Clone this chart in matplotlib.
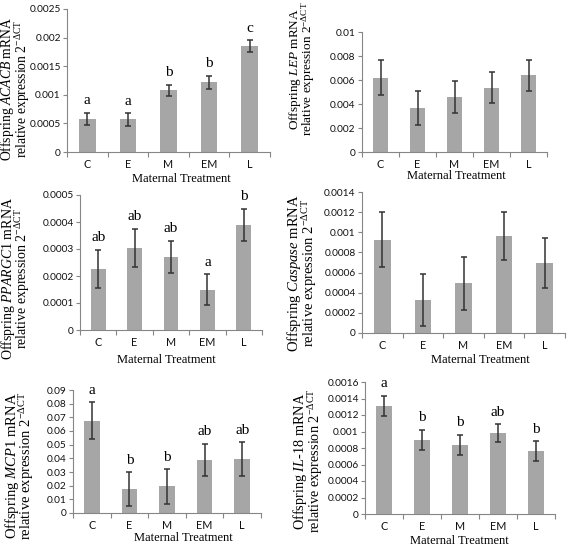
import matplotlib
matplotlib.use("Agg")
import matplotlib.pyplot as plt
from matplotlib.ticker import MultipleLocator, FuncFormatter

# data
treatments = ["C", "E", "M", "EM", "L"]
genes = ["ACACB", "LEP", "PPARGC1", "Caspase", "MCP1", "IL-18"]

acacb_mean = [0.00058, 0.00057, 0.00108, 0.00122, 0.00185]
acacb_err = [0.00011, 0.00011, 0.00010, 0.00011, 0.00010]
acacb_letters = ["a", "a", "b", "b", "c"]

lep_mean = [0.0062, 0.00367, 0.00462, 0.00537, 0.0064]
lep_err = [0.00143, 0.00143, 0.00133, 0.0013, 0.0013]
lep_letters = ["", "", "", "", ""]

ppargc1_mean = [0.000227, 0.000304, 0.00027, 0.00015, 0.000388]
ppargc1_err = [0.00007, 0.00007, 0.00006, 0.000057, 0.00006]
ppargc1_letters = ["ab", "ab", "ab", "a", "b"]

caspase_mean = [0.000927, 0.000327, 0.000493, 0.000965, 0.000697]
caspase_err = [0.00027, 0.00026, 0.00026, 0.00024, 0.00025]
caspase_letters = ["", "", "", "", ""]

mcp1_mean = [0.0675, 0.0173, 0.0195, 0.039, 0.0395]
mcp1_err = [0.0136, 0.0124, 0.0126, 0.0118, 0.0122]
mcp1_letters = ["a", "b", "b", "ab", "ab"]

il18_mean = [0.00131, 0.0009, 0.00084, 0.00098, 0.00076]
il18_err = [0.000125, 0.00012, 0.00012, 0.00011, 0.00012]
il18_letters = ["a", "b", "b", "ab", "b"]

means = [acacb_mean, lep_mean, ppargc1_mean, caspase_mean, mcp1_mean, il18_mean]
errs = [acacb_err, lep_err, ppargc1_err, caspase_err, mcp1_err, il18_err]
letters = [acacb_letters, lep_letters, ppargc1_letters, caspase_letters,
           mcp1_letters, il18_letters]
ymax = [0.0025, 0.01, 0.0005, 0.0014, 0.09, 0.0016]
ystep = [0.0005, 0.002, 0.0001, 0.0002, 0.01, 0.0002]

# layout in pixels: axes box (x0, top, x1, bottom), ylabel centre, ylabel size, xlabel centre
W, H = 567, 548
boxes = [(67, 9, 270, 152), (362, 32, 547, 152),
         (80, 195, 262, 330), (362, 192, 565, 333),
         (73, 390, 261, 513), (365, 382, 555, 514)]
ylab_pos = [(15, 89), (302, 69), (15.5, 279), (302, 273), (19.5, 466), (308, 461)]
ylab_size = [9.8, 9.5, 10, 10.5, 10.5, 10.3]
ylab_spacing = [0.72, 0.78, 0.78, 0.78, 0.78, 0.78]
xlab_pos = [(181, 179), (456, 176), (166, 360), (480, 360), (183, 538), (459, 541)]

plt.rcParams['mathtext.fontset'] = 'custom'
plt.rcParams['mathtext.rm'] = 'Liberation Serif'
plt.rcParams['mathtext.it'] = 'Liberation Serif:italic'
plt.rcParams['mathtext.bf'] = 'Liberation Serif:bold'

bar_color = "#a6a6a6"
axis_color = "#868686"
serif = "Liberation Serif"
sans = "Lato"


def fmt(v, pos):
    s = f"{v:.6f}".rstrip('0').rstrip('.')
    return s


def gene_tex(g):
    if "-" in g:
        a, b = g.split("-")
        return f"$\\mathit{{{a}}}$-$\\mathit{{{b}}}$"
    return f"$\\mathit{{{g}}}$"


fig = plt.figure(figsize=(W / 100, H / 100), dpi=100)

for i in range(6):
    x0, top, x1, bot = boxes[i]
    ax = fig.add_axes([x0 / W, 1 - bot / H, (x1 - x0) / W, (bot - top) / H])
    pos = list(range(len(treatments)))
    ax.bar(pos, means[i], width=0.41, color=bar_color, zorder=2)
    ax.errorbar(pos, means[i], yerr=errs[i], fmt='none', ecolor="#333333",
                elinewidth=1.1, capsize=2.2, capthick=1.1, zorder=3)
    for p, m, e, lab in zip(pos, means[i], errs[i], letters[i]):
        if lab:
            ax.annotate(lab, (p, m + e), xytext=(0, 4), textcoords='offset points',
                        ha='center', va='bottom', fontfamily=serif, fontsize=11)

    ax.set_xlim(-0.5, len(treatments) - 0.5)
    ax.set_ylim(0, ymax[i])
    ax.yaxis.set_major_locator(MultipleLocator(ystep[i]))
    ax.yaxis.set_major_formatter(FuncFormatter(fmt))

    # category boundaries as major ticks, labels on minor ticks
    ax.set_xticks([k - 0.5 for k in range(len(treatments) + 1)])
    ax.set_xticklabels([])
    ax.set_xticks(pos, minor=True)
    ax.set_xticklabels(treatments, minor=True)
    ax.tick_params(axis='x', which='major', direction='out', length=3.5,
                   color=axis_color, width=0.8)
    ax.tick_params(axis='x', which='minor', length=0, pad=5, labelsize=7.8)
    ax.tick_params(axis='y', direction='out', length=3, color=axis_color,
                   width=0.8, pad=1.5, labelsize=7.3)
    for t in ax.get_xticklabels(minor=True) + ax.get_yticklabels():
        t.set_fontfamily(sans)
        t.set_color("#111111")

    for s in ["top", "right"]:
        ax.spines[s].set_visible(False)
    for s in ["left", "bottom"]:
        ax.spines[s].set_color(axis_color)
        ax.spines[s].set_linewidth(0.8)

    lx, ly = ylab_pos[i]
    fig.text(lx / W, 1 - ly / H,
             f"Offspring {gene_tex(genes[i])} mRNA\nrelative expression 2$^{{-\\Delta\\mathrm{{CT}}}}$",
             rotation=90, ha='center', va='center', multialignment='center',
             fontfamily=serif, fontsize=ylab_size[i], linespacing=ylab_spacing[i])
    xx, xy = xlab_pos[i]
    fig.text(xx / W, 1 - xy / H, "Maternal Treatment", ha='center', va='center',
             fontfamily=serif, fontsize=9)

fig.savefig("out.png", dpi=100)
